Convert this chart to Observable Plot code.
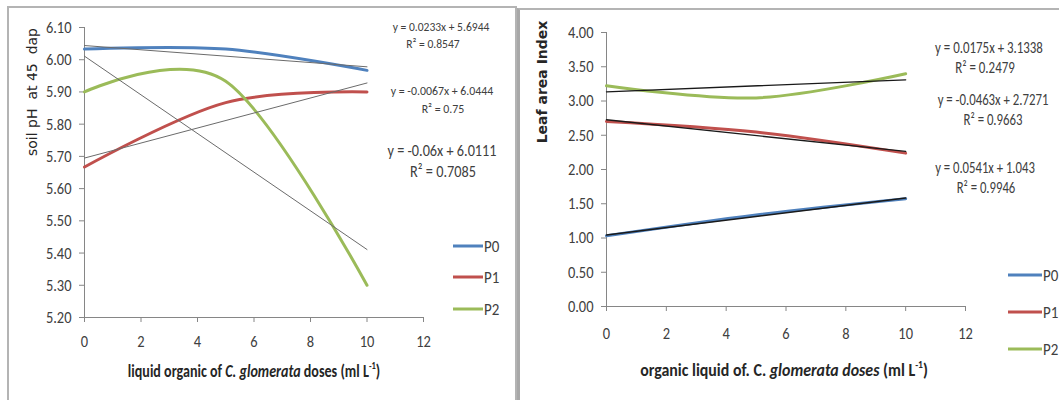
<!DOCTYPE html>
<html>
<head>
<meta charset="utf-8">
<script src="https://cdn.jsdelivr.net/npm/d3@7"></script>
<script src="https://cdn.jsdelivr.net/npm/@observablehq/plot@0.6"></script>
<style>
  body { margin: 0; background: #fff; }
  #root { position: relative; width: 1059px; height: 400px; overflow: hidden; background: #fff;
          font-family: "Carlito", "Liberation Sans", sans-serif; color: #404040; }
  .abs { position: absolute; white-space: nowrap; line-height: 1.15; }
  .panel { position: absolute; box-sizing: border-box; }
  .leg { position: absolute; display: flex; align-items: center; transform: translateY(-50%); font-size: 17px; color: #404040; white-space: nowrap; }
  .leg span.ln { display: inline-block; height: 3px; margin-right: 1px; }
  .leg span.tx { display: inline-block; transform-origin: 0 50%; transform: scaleX(0.88); }
  svg.plot { max-width: none !important; }
  sup { font-size: 0.6em; vertical-align: 0.75em; line-height: 0; }
</style>
</head>
<body>
<div id="root"></div>
<script>
// ---------------- data ----------------
const doses = [0, 5, 10];
const seriesNames = ["P0", "P1", "P2"];
const seriesColors = ["#4F81BD", "#C0504D", "#9BBB59"];

// left: soil pH at 45 dap
const soilP0 = [6.033, 6.033, 5.967];
const soilP1 = [5.667, 5.867, 5.900];
const soilP2 = [5.900, 5.933, 5.300];
const soilTicks = [5.2, 5.3, 5.4, 5.5, 5.6, 5.7, 5.8, 5.9, 6.0, 6.1];
const soilEq = ["y = 0.0233x + 5.6944", "y = -0.0067x + 6.0444", "y = -0.06x + 6.0111"];
const soilR2 = ["R\u00B2 = 0.8547", "R\u00B2 = 0.75", "R\u00B2 = 0.7085"];

// right: leaf area index
const laiP0 = [1.032, 1.336, 1.573];
const laiP1 = [2.702, 2.546, 2.239];
const laiP2 = [3.222, 3.045, 3.397];
const laiTicks = [0, 0.5, 1, 1.5, 2, 2.5, 3, 3.5, 4];
const laiEq = ["y = 0.0175x + 3.1338", "y = -0.0463x + 2.7271", "y = 0.0541x + 1.043"];
const laiR2 = ["R\u00B2 = 0.2479", "R\u00B2 = 0.9663", "R\u00B2 = 0.9946"];

const xTicks = [0, 2, 4, 6, 8, 10, 12];

// --------------- helpers ---------------
function rows(arrs) {
  const out = [];
  arrs.forEach((vals, i) => vals.forEach((v, j) => out.push({x: doses[j], y: v, s: seriesNames[i]})));
  return out;
}
const soilRows = rows([soilP0, soilP1, soilP2]);
const laiRows = rows([laiP0, laiP1, laiP2]);

const root = document.getElementById("root");
const axisGray = "#868686";
const labelColor = "#404040";
const fontFam = '"Carlito", "Liberation Sans", sans-serif';

function makePlot(cfg) {
  return Plot.plot({
    width: cfg.width, height: 400,
    marginLeft: cfg.ml, marginRight: cfg.mr, marginTop: cfg.mt, marginBottom: cfg.mb,
    style: {fontFamily: fontFam, fontSize: "17px", background: "transparent", overflow: "visible", color: labelColor},
    x: {domain: [0, 12], label: null},
    y: {domain: cfg.ydom, label: null},
    color: {domain: seriesNames, range: seriesColors},
    marks: [
      Plot.axisX({ticks: xTicks, tickSize: 5, tickPadding: cfg.xpad, stroke: axisGray, fill: labelColor, label: null, tickFormat: d => String(d)}),
      Plot.axisY({ticks: cfg.yticks, tickSize: 5, tickPadding: 8, stroke: axisGray, fill: labelColor, label: null, tickFormat: d => d.toFixed(2)}),
      Plot.ruleX([0], {stroke: axisGray}),
      Plot.ruleY([cfg.ydom[0]], {stroke: axisGray}),
      Plot.line(cfg.data, {x: "x", y: "y", z: "s", stroke: "s", strokeWidth: 3, curve: "cardinal"}),
      Plot.linearRegressionY(cfg.data, {x: "x", y: "y", z: "s", stroke: cfg.trendColor, strokeWidth: cfg.trendWidth, ci: 0})
    ]
  });
}

function squeeze(svg, f) {
  svg.querySelectorAll("text").forEach(t => {
    const w = t.getComputedTextLength();
    if (w > 0) {
      t.setAttribute("textLength", (w * f).toFixed(2));
      t.setAttribute("lengthAdjust", "spacingAndGlyphs");
    }
  });
}

function place(el, left, top) {
  el.style.position = "absolute";
  el.style.left = left + "px";
  el.style.top = top + "px";
  root.appendChild(el);
}
// centred text, horizontally scaled to a target width (or by a given factor)
function text(html, cx, cy, size, opts = {}) {
  const d = document.createElement("div");
  d.className = "abs";
  d.innerHTML = html;
  d.style.left = cx + "px";
  d.style.top = cy + "px";
  d.style.fontSize = size + "px";
  if (opts.style) Object.assign(d.style, opts.style);
  root.appendChild(d);
  let s = opts.scale || 1;
  if (opts.width) s = opts.width / d.offsetWidth;
  d.style.transform = `translate(-50%,-50%) scaleX(${s})` + (opts.rotate ? ` rotate(${opts.rotate}deg)` : "");
  return s;
}
function legend(x, ys, lineW) {
  seriesNames.forEach((n, i) => {
    const d = document.createElement("div");
    d.className = "leg";
    d.style.left = x + "px";
    d.style.top = ys[i] + "px";
    d.innerHTML = `<span class="ln" style="width:${lineW}px;background:${seriesColors[i]}"></span><span class="tx">${n}</span>`;
    root.appendChild(d);
  });
}

// --------------- panels (frames) ---------------
const p1 = document.createElement("div");
p1.className = "panel";
Object.assign(p1.style, {left: "7px", top: "6px", width: "510px", height: "400px", border: "2px solid #b4b4b4"});
root.appendChild(p1);
const p2 = document.createElement("div");
p2.className = "panel";
Object.assign(p2.style, {left: "517px", top: "8px", width: "560px", height: "400px", borderLeft: "3px solid #a8a8a8", borderTop: "2px solid #b4b4b4"});
root.appendChild(p2);

// --------------- left chart ---------------
const leftPlot = makePlot({width: 515, ml: 84, mr: 92, mt: 27, mb: 83, ydom: [5.2, 6.1], yticks: soilTicks,
  data: soilRows, xpad: 12, trendColor: "#6b6b6b", trendWidth: 1});
place(leftPlot, 0, 0);
squeeze(leftPlot, 0.85);

// --------------- right chart ---------------
const rightPlot = makePlot({width: 542, ml: 89, mr: 94, mt: 32, mb: 94, ydom: [0, 4], yticks: laiTicks,
  data: laiRows, xpad: 15, trendColor: "#1a1a1a", trendWidth: 1.4});
place(rightPlot, 517, 0);
squeeze(rightPlot, 0.85);

// --------------- equations ---------------
let s;
s = text(soilEq[0], 441, 27, 13, {width: 97});
text(soilR2[0], 433, 44, 13, {scale: s});
s = text(soilEq[1], 442, 91, 13, {width: 103});
text(soilR2[1], 443, 109, 13, {scale: s});
s = text(soilEq[2], 442, 151, 17, {width: 109});
text(soilR2[2], 443, 172, 17, {scale: s});

s = text(laiEq[0], 989, 48, 16, {width: 108});
text(laiR2[0], 985, 68, 16, {scale: s});
s = text(laiEq[1], 993, 100, 16, {width: 111});
text(laiR2[1], 993, 120, 16, {scale: s});
s = text(laiEq[2], 985, 168, 16, {width: 100});
text(laiR2[2], 986, 188, 16, {scale: s});

// --------------- legends ---------------
legend(453, [246, 277, 309], 30);
legend(1008, [275, 312, 349], 34);

// --------------- axis titles ---------------
text('liquid organic of <i>C. glomerata</i> doses (ml L<sup>-1</sup>)', 254, 371, 18, {width: 252, style: {fontWeight: "bold", color: "#262626"}});
text('organic liquid of. C. <i>glomerata doses</i> (ml L<sup>-1</sup>)', 784, 370, 18, {width: 288, style: {fontWeight: "bold", color: "#262626"}});
text('soil pH &nbsp;at 45 &nbsp;dap', 32, 92, 14, {rotate: -90, style: {fontFamily: '"DejaVu Sans", sans-serif', color: "#262626"}});
text('Leaf area Index', 542, 82, 14, {rotate: -90, style: {fontFamily: '"DejaVu Sans", sans-serif', fontWeight: "bold", color: "#262626"}});
</script>
</body>
</html>
